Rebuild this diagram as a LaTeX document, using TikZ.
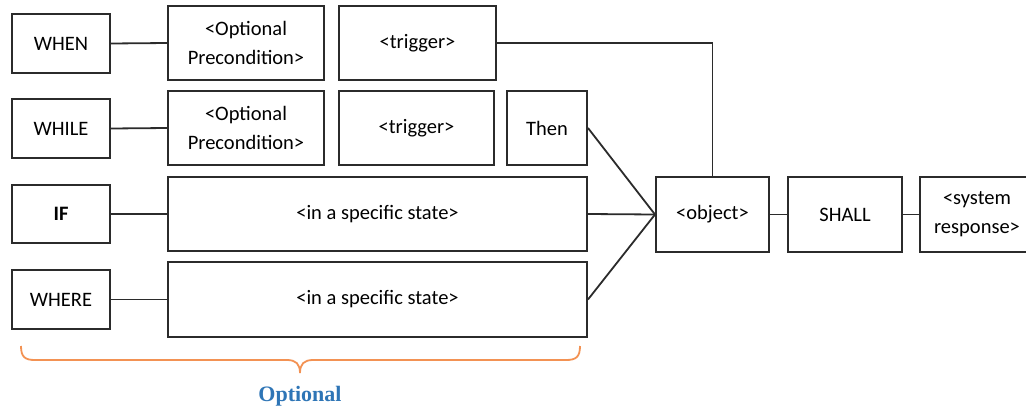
\documentclass[tikz,border=0pt]{standalone}
\usepackage{fontspec}
\setmainfont{Carlito}
\newfontfamily\optfont{Liberation Serif}
\definecolor{boxline}{HTML}{2B2B2B}
\definecolor{braceorange}{HTML}{F39253}
\definecolor{optblue}{HTML}{2E75B6}
\begin{document}
\begin{tikzpicture}[x=1pt,y=-1pt,
  box/.style={draw=boxline,line width=2pt,rectangle,inner sep=0pt,align=center,
    font=\fontsize{20.5}{29}\selectfont},
  conn/.style={draw=boxline,line width=1.8pt},
  bracepath/.style={draw=braceorange,line width=1.8pt}]
\clip (0,0) rectangle (1026,410);
\useasboundingbox (0,0) rectangle (1026,410);
% left keywords
\node[box,minimum width=98pt,minimum height=59pt] (when) at (61,43.5) {WHEN};
\node[box,minimum width=98pt,minimum height=59pt] (while) at (61,128.5) {WHILE};
\node[box,minimum width=98pt,minimum height=58pt] (if) at (61,214) {\bfseries IF};
\node[box,minimum width=98pt,minimum height=59pt] (where) at (61,299.5) {WHERE};
% preconditions
\node[box,minimum width=156pt,minimum height=74pt] (pre1) at (246,43) {<Optional\\Precondition>};
\node[box,minimum width=156pt,minimum height=74pt] (pre2) at (246,128) {<Optional\\Precondition>};
% triggers
\node[box,minimum width=157pt,minimum height=74pt] (trig1) at (417.5,43) {<trigger>};
\node[box,minimum width=155pt,minimum height=74pt] (trig2) at (416.5,128) {<trigger>};
\node[box,minimum width=80pt,minimum height=74pt] (then) at (547,128) {Then};
% states
\node[box,minimum width=419pt,minimum height=74pt] (state1) at (377.5,214) {<in a specific state>};
\node[box,minimum width=419pt,minimum height=75pt] (state2) at (377.5,299.5) {<in a specific state>};
% right side
\node[box,minimum width=113pt,minimum height=75pt] (object) at (712.5,214.5) {<object>};
\node[box,minimum width=114pt,minimum height=75pt] (shall) at (845,214.5) {SHALL};
\node[box,minimum width=114pt,minimum height=75pt] (sys) at (977,214.5) {<system\\response>};
% connectors
\draw[conn] (when.east) -- (pre1.west);
\draw[conn] (while.east) -- (pre2.west);
\draw[conn] (if.east) -- (state1.west);
\draw[conn] (where.east) -- (state2.west);
\draw[conn] (trig1.east) -| (object.north);
\draw[conn] (then.east) -- (object.west);
\draw[conn] (state1.east) -- (object.west);
\draw[conn] (state2.east) -- (object.west);
\draw[conn] (object.east) -- (shall.west);
\draw[conn] (shall.east) -- (sys.west);
% brace
\coordinate (bl) at (21,346);
\coordinate (br) at (580,346);
\coordinate (bt) at (300,373);
\draw[bracepath] (bl) .. controls (21,357) and (25,360) .. (35,360) -- (287,360)
  .. controls (296,360) and (300,364) .. (bt)
  .. controls (300,364) and (304,360) .. (313,360) -- (566,360)
  .. controls (576,360) and (580,357) .. (br);
\node[font=\optfont\bfseries\fontsize{22}{24}\selectfont,text=optblue] (opt) at (300,396) {Optional};
\end{tikzpicture}
\end{document}
